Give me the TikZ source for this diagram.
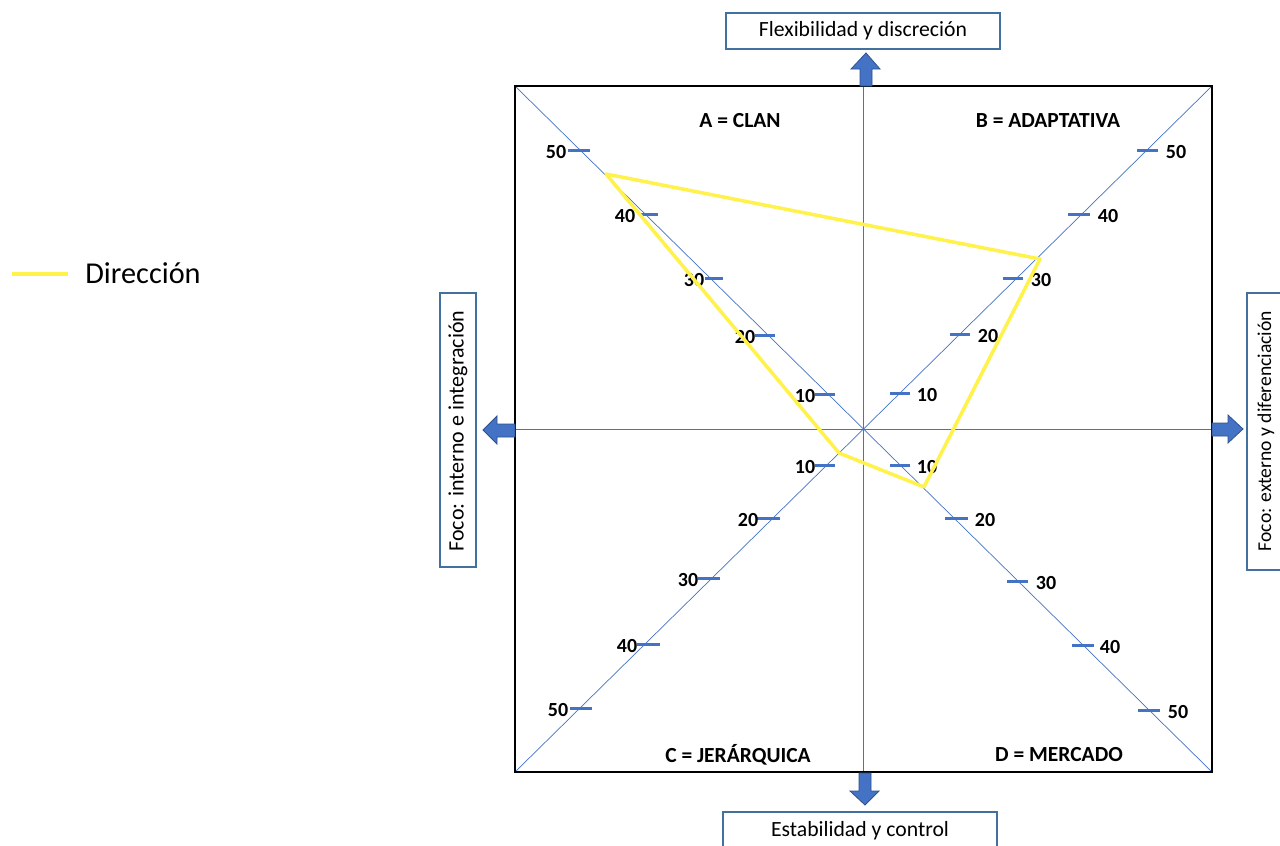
\documentclass[tikz,border=0pt]{standalone}
\usepackage{fontspec}
\setmainfont{Carlito}
\begin{document}
\begin{tikzpicture}[x=1pt,y=-1pt]
\definecolor{axisblue}{HTML}{4472C4}
\definecolor{boxblue}{HTML}{41719C}
\definecolor{arrowedge}{HTML}{2F528F}
\definecolor{diryellow}{HTML}{FFF24A}
\tikzset{
 axisline/.style={axisblue, line width=0.7},
 tickmark/.style={axisblue, line width=3},
 ticklabel/.style={font=\fontsize{20}{20}\selectfont\bfseries, inner sep=0},
 quadlabel/.style={font=\fontsize{21.5}{22}\selectfont\bfseries, inner sep=0},
 axisbox/.style={draw=boxblue, line width=1.5, fill=white},
 boxtext/.style={font=\fontsize{21.7}{24}\selectfont, inner sep=0},
 blockarrow/.style={fill=axisblue, draw=arrowedge, line width=0.8, line join=miter},
 dirline/.style={diryellow, line width=3.5, line join=round}
}
\useasboundingbox[fill=white] (0,0) rectangle (1280,846);
% square
\coordinate (tl) at (515,86);
\coordinate (tr) at (1212,86);
\coordinate (bl) at (515,772);
\coordinate (br) at (1212,772);
\coordinate (ctop) at (863,86);
\coordinate (cbot) at (863,772);
\coordinate (cleft) at (515,429);
\coordinate (cright) at (1212,429);
\draw[axisline] (tl) -- (br);
\draw[axisline] (bl) -- (tr);
\draw[axisline] (ctop) -- (cbot);
\draw[axisline] (cleft) -- (cright);
\draw[black, line width=2.5] (tl) rectangle (br);
% ticks: tick x1, x2, y, label x, text
\foreach \a/\b/\y/\lx/\t in {
 568/590/150/556/50, 640/658/214/625/40, 705/723/278/694/30, 755/775/335/745/20, 815/835/394/805/10,
 1137/1158/150/1176/50, 1068/1090/214/1108/40, 1003/1023/278/1041/30, 950/970/334/988/20, 890/910/393/927/10,
 815/835/465/805/10, 757/780/518/748/20, 698/720/578/688/30, 637/660/644/627/40, 570/592/708/558/50,
 890/910/465/927/10, 945/968/518/985/20, 1007/1028/581/1046/30, 1072/1094/645/1110/40, 1138/1160/710/1178/50}{
 \draw[tickmark] (\a,\y) -- (\b,\y);
 \node[ticklabel] at (\lx,\y+2) {\t};
}
% quadrant labels
\node[quadlabel] (qa) at (740,121) {A = CLAN};
\node[quadlabel] (qb) at (1048,121) {B = ADAPTATIVA};
\node[quadlabel] (qc) at (738,755) {C = JERÁRQUICA};
\node[quadlabel] (qd) at (1059,755) {D = MERCADO};
% direction polygon
\coordinate (pa) at (606,174);
\coordinate (pb) at (1040,259);
\coordinate (pd) at (924,487);
\coordinate (pc) at (839,453);
\draw[dirline] (pa) -- (pb) -- (pd) -- (pc) -- cycle;
% axis boxes
\draw[axisbox] (726,13) rectangle (1000,49);
\node[boxtext] (top) at (863,31) {Flexibilidad y discreción};
\draw[axisbox] (723,812) rectangle (997,850);
\node[boxtext] (bottom) at (860,831) {Estabilidad y control};
\draw[axisbox] (440,293) rectangle (476,567);
\node[boxtext, font=\fontsize{22}{24}\selectfont, rotate=90] (left) at (458,431) {Foco: interno e integración};
\draw[axisbox] (1247,293) rectangle (1285,570);
\node[boxtext, font=\fontsize{19.6}{24}\selectfont, rotate=90] (right) at (1266,431) {Foco: externo y diferenciación};
% block arrows
\draw[blockarrow] (860,86) -- (860,69) -- (851,69) -- (866,53) -- (880,69) -- (872,69) -- (872,86) -- cycle;
\draw[blockarrow] (859,773) -- (859,791) -- (850,791) -- (865,805) -- (879,791) -- (871,791) -- (871,773) -- cycle;
\draw[blockarrow] (515,424) -- (497,424) -- (497,416) -- (483,430) -- (497,444) -- (497,437) -- (515,437) -- cycle;
\draw[blockarrow] (1212,423) -- (1228,423) -- (1228,415) -- (1243,429) -- (1228,443) -- (1228,436) -- (1212,436) -- cycle;
% legend
\coordinate (lg1) at (12,274);
\coordinate (lg2) at (68,274);
\draw[dirline] (lg1) -- (lg2);
\node[font=\fontsize{30.3}{32}\selectfont, inner sep=0] (legend) at (143,273) {Dirección};
\end{tikzpicture}
\end{document}
